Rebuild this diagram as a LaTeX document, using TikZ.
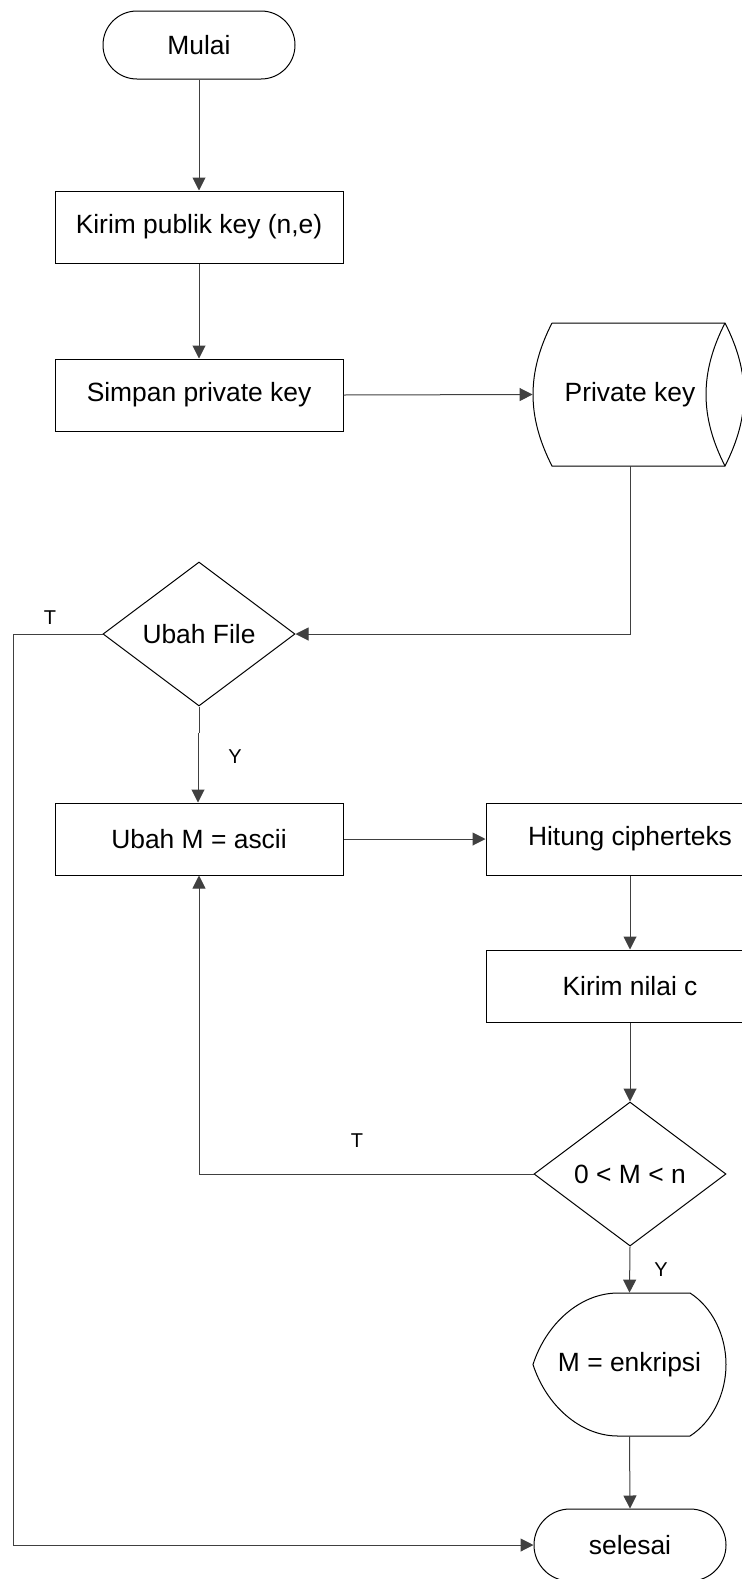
\documentclass[tikz,border=0pt]{standalone}
\usepackage{fontspec}
\setmainfont{Liberation Sans}
\usetikzlibrary{arrows.meta,shapes.geometric}
\begin{document}
\begin{tikzpicture}[x=0.5pt,y=-0.5pt,
  every node/.style={font=\fontsize{13.2pt}{15pt}\selectfont, inner sep=0pt},
  proc/.style={draw, line width=0.5pt, rectangle, minimum width=144pt, minimum height=36pt},
  term/.style={draw, line width=0.5pt, rectangle, minimum width=96pt, minimum height=#1, rounded corners=0.499*#1},
  decision/.style={draw, line width=0.5pt, diamond, aspect=1.333, minimum width=96pt, minimum height=72pt},
  link/.style={draw=black!75, line width=0.5pt},
  arrow/.style={link, -{Triangle[length=6.5pt,width=6.5pt]}},
  lbl/.style={font=\fontsize{10pt}{12pt}\selectfont},
  outline/.style={draw, line width=0.5pt}
]
\useasboundingbox (0,0) rectangle (741,1579);

% left column
\node[term=34pt] (mulai) at (199,45) {Mulai};
\node[proc] (kpk) at (199,227) {Kirim publik key (n,e)};
\node[proc] (spk) at (199,395) {Simpan private key};
\node[decision] (uf) at (199,634) {Ubah File};
\node[proc] (um) at (199,839) {Ubah M = ascii};

% stored key (horizontal drum)
\node[minimum width=97pt, minimum height=71.5pt] (pk) at (630,394.5) {Private key};
\draw[outline] (552,323) -- (725,323) to[bend left=27] (725,466) -- (552,466)
  to[bend left=27] (552,323);
\draw[outline] (725,323) to[bend right=27] (725,466);

% right column
\node[proc] (hc) at (630,839) {Hitung cipherteks};
\node[proc] (knc) at (630,986) {Kirim nilai c};
\node[decision] (cmp) at (630,1174) {0 < M < n};

% display shape
\node[minimum width=96.5pt, minimum height=71.5pt] (disp) at (629.5,1364.5) {M = enkripsi};
\draw[outline] (618,1293) -- (690,1293)
  .. controls (712,1307) and (726,1335) .. (726,1364.5)
  .. controls (726,1394) and (712,1422) .. (690,1436) -- (618,1436)
  .. controls (580,1436) and (546,1405) .. (533,1364.5)
  .. controls (546,1324) and (580,1293) .. (618,1293) -- cycle;

\node[term=36pt] (sel) at (630,1545) {selesai};

% connectors
\coordinate (lt) at (13,634);
\draw[arrow] (mulai) -- (kpk);
\draw[arrow] (kpk) -- (spk);
\draw[arrow] (spk.east) -- (pk.west);
\draw[arrow] (pk.south) |- (uf.east);
\draw[arrow] (uf.west) -- (lt) |- (sel.west);
% the Y branch has a one-pixel step part way down
\draw[link] (uf.south) -- ++(0,26) coordinate (jog);
\draw[arrow] ([xshift=-0.5pt]jog) -- ([xshift=-0.5pt]um.north);
\draw[arrow] (um.east) -- (hc.west);
\draw[arrow] (hc) -- (knc);
\draw[arrow] (knc) -- (cmp);
\draw[arrow] (cmp.west) -| (um.south);
\draw[arrow] (cmp.south) -- (disp.north);
\draw[arrow] (disp.south) -- (sel.north);

% branch labels
\node[lbl] (t1) at (50,618) {T};
\node[lbl] (y1) at (235,757) {Y};
\node[lbl] (t2) at (357,1141) {T};
\node[lbl] (y2) at (661,1270) {Y};
\end{tikzpicture}
\end{document}
